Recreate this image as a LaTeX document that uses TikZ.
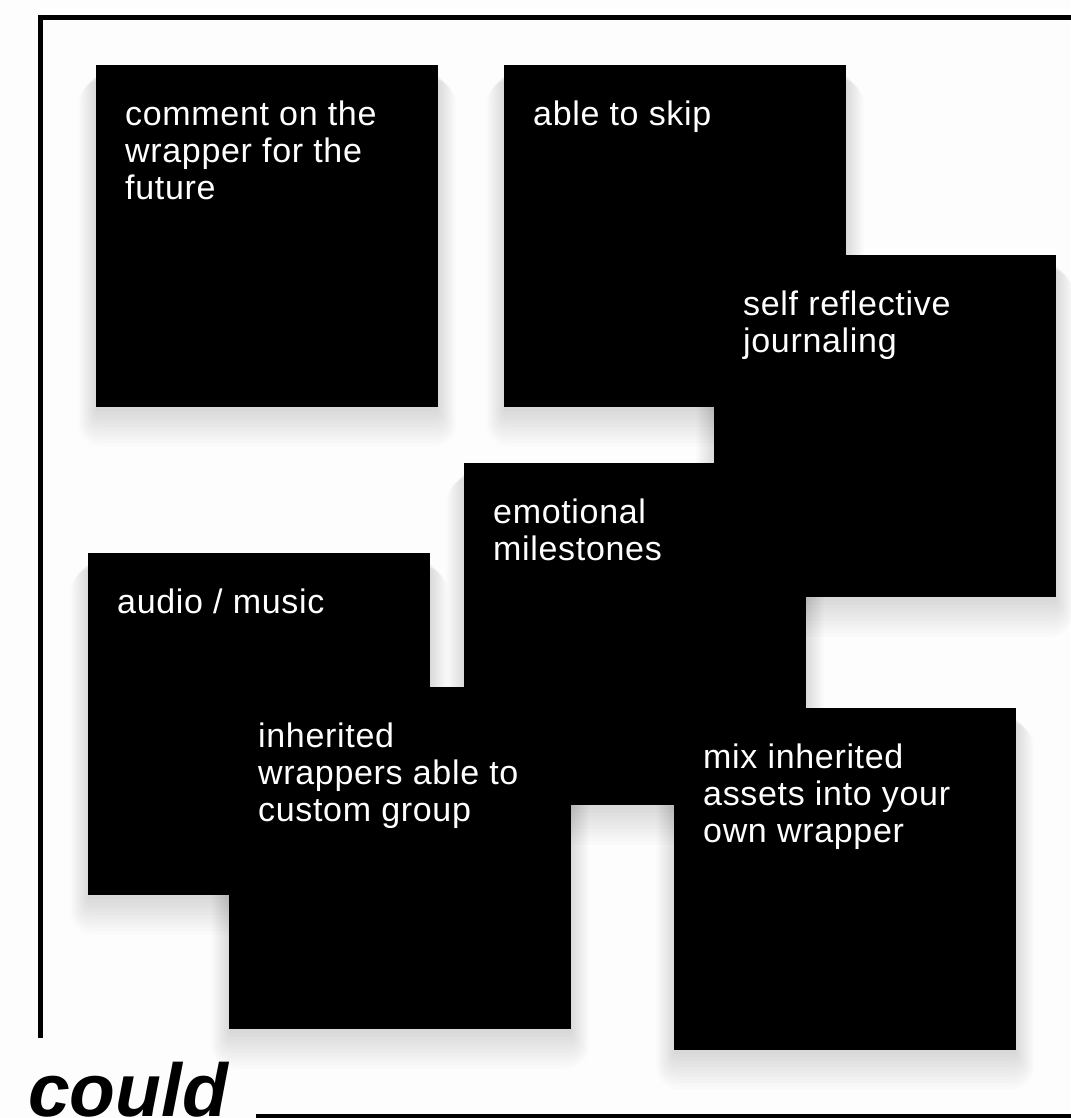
\documentclass[tikz,border=0pt]{standalone}
\usepackage{fontspec}
\setmainfont{Liberation Sans}
\newfontfamily\cardfont[LetterSpace=2]{Liberation Sans}
\pgfdeclarelayer{bg}
\pgfdeclarelayer{shade}
\pgfsetlayers{bg,shade,main}
\begin{document}
\begin{tikzpicture}[x=1pt,y=-1pt,
  card/.style={fill=black, draw=none, minimum width=342pt, minimum height=342pt, inner sep=0pt, anchor=north west},
  cardtext/.style={text=white, anchor=north west, inner sep=0pt, align=left,
    font=\cardfont\fontsize{34}{37}\selectfont},
  frame/.style={line width=5pt, draw=black},
  shadelayer/.style={fill=black, opacity=0.012}
]
\begin{pgfonlayer}{bg}
\fill[fill={rgb,255:red,253;green,253;blue,253}] (0,0) rectangle (1070,1118);
\end{pgfonlayer}
\useasboundingbox (0,0) rectangle (1070,1118);
\coordinate (fb) at (40,1038);
\coordinate (ft) at (40,17.5);
\coordinate (fr) at (1072,17.5);
\draw[frame] (fb) -- (ft) -- (fr);
\coordinate (bl) at (256,1116);
\coordinate (br) at (1072,1116);
\draw[frame] (bl) -- (br);
\node[anchor=base west, inner sep=0pt, font=\fontsize{75}{80}\selectfont\bfseries\itshape] (could) at (28,1116) {could};

\node[card] (c1) at (96,65) {};
\node[cardtext] (t1) at ([shift={(29,34)}]c1.north west) {\strut comment on the\\wrapper for the\\future};
\node[card] (c2) at (504,65) {};
\node[cardtext] (t2) at ([shift={(29,34)}]c2.north west) {\strut able to skip};
\node[card] (c3) at (714,255) {};
\node[cardtext] (t3) at ([shift={(29,34)}]c3.north west) {\strut self reflective\\journaling};
\node[card] (c4) at (464,463) {};
\node[cardtext] (t4) at ([shift={(29,34)}]c4.north west) {\strut emotional\\milestones};
\node[card] (c5) at (88,553) {};
\node[cardtext] (t5) at ([shift={(29,34)}]c5.north west) {\strut audio / music};
\node[card] (c6) at (229,687) {};
\node[cardtext] (t6) at ([shift={(29,34)}]c6.north west) {\strut inherited\\wrappers able to\\custom group};
\node[card] (c7) at (674,708) {};
\node[cardtext] (t7) at ([shift={(29,34)}]c7.north west) {\strut mix inherited\\assets into your\\own wrapper};

\begin{pgfonlayer}{shade}
\foreach \n in {c1,c2,c3,c4,c5,c6,c7}{
  \foreach \k in {0,...,11}{
    \fill[shadelayer, rounded corners={1pt+2pt*\k}]
      ([shift={(-1.6*\k,10+0.5*\k)}]\n.north west) rectangle ([shift={(1.6*\k,4+3.2*\k)}]\n.south east);
  }
}
\end{pgfonlayer}
\end{tikzpicture}
\end{document}
